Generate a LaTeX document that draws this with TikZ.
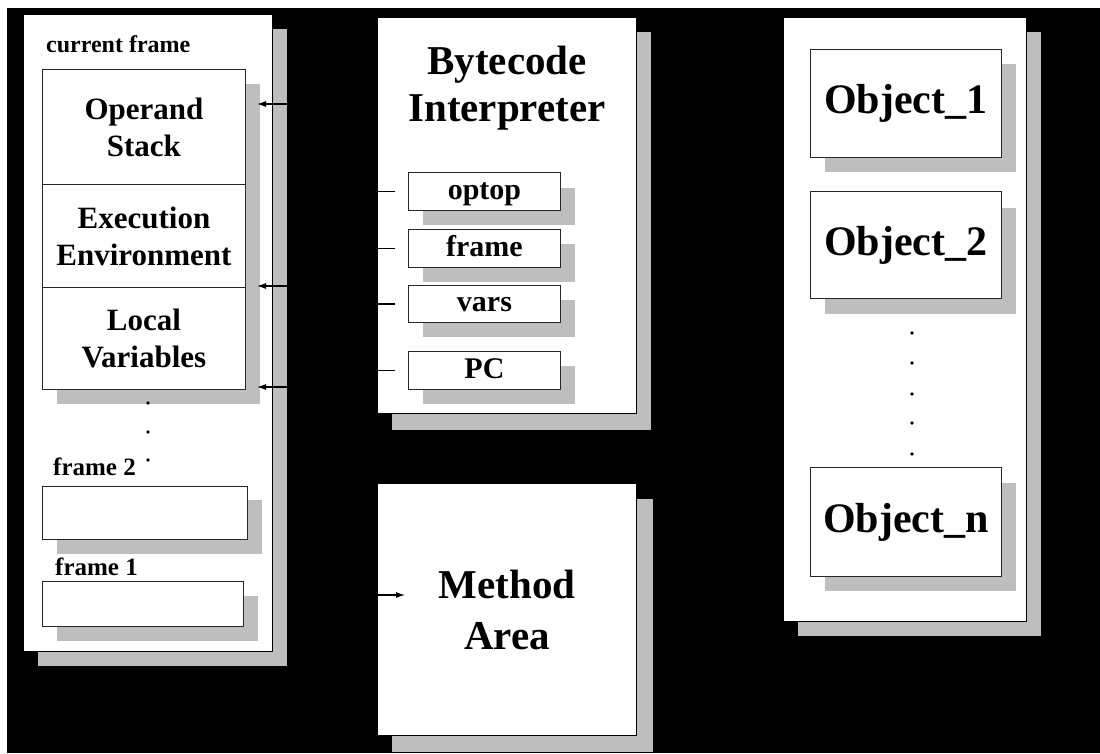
\documentclass[tikz,border=0pt]{standalone}
\usepackage{fontspec}
\setmainfont{Liberation Serif}
\usetikzlibrary{arrows.meta}
\definecolor{shadowgray}{RGB}{190,190,190}
\begin{document}
\begin{tikzpicture}[x=1pt,y=-1pt,
  panel/.style={fill=white,draw=black,line width=1pt},
  shade/.style={fill=shadowgray},
  cell/.style={fill=white,draw=black!85,line width=0.9pt,anchor=north west,inner sep=0pt,align=center},
  midtext/.style={font=\bfseries\fontsize{31}{37}\selectfont},
  regtext/.style={font=\bfseries\fontsize{30}{32}\selectfont,text height=20pt,text depth=4pt},
  bigtext/.style={font=\bfseries\fontsize{41}{51}\selectfont},
  objtext/.style={font=\bfseries\fontsize{42}{50}\selectfont},
  smalllabel/.style={font=\bfseries\fontsize{24}{27}\selectfont,anchor=base west,inner sep=0pt},
  title/.style={font=\bfseries\fontsize{41}{47}\selectfont,align=center,inner sep=0pt},
  link/.style={draw=black,line width=1.1pt},
  tip/.style={-{Latex[length=9pt,width=6pt]}},
  dot/.style={fill=black}
]
% background and margins
\useasboundingbox (0,0) rectangle (1100,753);
\fill[white] (0,0) rectangle (1100,753);
\fill[black] (7,8) rectangle (1100,753);

% ---------------- left panel: Java stack ----------------
\fill[shade] (38,29) rectangle (287,666);
\node[panel,anchor=north west,minimum width=249pt,minimum height=637pt,inner sep=0pt] (stackpanel) at (23,14) {};
\node[smalllabel] (curlbl) at (46,52) {current frame};
\fill[shade] (57,84) rectangle (260,404);
\node[cell,midtext,minimum width=203pt,minimum height=115pt] (opstack) at (42,69) {Operand\\Stack};
\node[cell,midtext,minimum width=203pt,minimum height=103pt] (execenv) at (42,184) {Execution\\Environment};
\node[cell,midtext,minimum width=203pt,minimum height=102pt] (localvars) at (42,287) {Local\\Variables};
\fill[dot] (148,403) circle (1.8);
\fill[dot] (148,432) circle (1.8);
\fill[dot] (148,460) circle (1.8);
\node[smalllabel,font=\bfseries\fontsize{25}{27}\selectfont] (f2lbl) at (53,475) {frame 2};
\fill[shade] (57,500) rectangle (262,554);
\node[cell,minimum width=205pt,minimum height=53pt] (frametwo) at (42,486) {};
\node[smalllabel,font=\bfseries\fontsize{25}{27}\selectfont] (f1lbl) at (55,575) {frame 1};
\fill[shade] (57,596) rectangle (258,641);
\node[cell,minimum width=201pt,minimum height=45pt] (frameone) at (42,581) {};

% ---------------- bytecode interpreter ----------------
\fill[shade] (392,32) rectangle (651,430);
\node[panel,anchor=north west,minimum width=259pt,minimum height=396pt,inner sep=0pt] (interp) at (377,17) {};
\node[title] (interptitle) at (507,88) {Bytecode\\Interpreter};
\fill[shade] (423,188) rectangle (575,225);
\node[cell,regtext,minimum width=152pt,minimum height=38pt] (optop) at (408,172) {optop};
\fill[shade] (423,244) rectangle (575,282);
\node[cell,regtext,minimum width=152pt,minimum height=38pt] (frame) at (408,229) {frame};
\fill[shade] (423,300) rectangle (575,337);
\node[cell,regtext,minimum width=152pt,minimum height=37pt] (vars) at (408,285) {vars};
\fill[shade] (423,366) rectangle (575,404);
\node[cell,regtext,minimum width=152pt,minimum height=38pt] (pc) at (408,351) {PC};

% ---------------- method area ----------------
\fill[shade] (392,499) rectangle (653,752);
\node[panel,anchor=north west,minimum width=259pt,minimum height=252pt,inner sep=0pt,bigtext,align=center] (method) at (377,483) {Method\\Area};

% ---------------- heap objects ----------------
\fill[shade] (798,32) rectangle (1041,636);
\node[panel,anchor=north west,minimum width=243pt,minimum height=604pt,inner sep=0pt] (heap) at (783,17) {};
\fill[shade] (825,64) rectangle (1016,172);
\node[cell,objtext,minimum width=191pt,minimum height=108pt] (obja) at (810,49) {Object\_1};
\fill[shade] (825,208) rectangle (1016,314);
\node[cell,objtext,minimum width=191pt,minimum height=107pt] (objb) at (810,191) {Object\_2};
\fill[dot] (912,333) circle (1.8);
\fill[dot] (912,363) circle (1.8);
\fill[dot] (912,394) circle (1.8);
\fill[dot] (912,423) circle (1.8);
\fill[dot] (912,454) circle (1.8);
\fill[shade] (825,483) rectangle (1016,591);
\node[cell,objtext,minimum width=191pt,minimum height=109pt] (objn) at (810,467) {Object\_n};

% ---------------- connectors ----------------
\coordinate (tipop) at (257,104);
\coordinate (tipenv) at (257,286);
\coordinate (tipvars) at (257,387);
\coordinate (tipmeth) at (405,595);
\draw[link,tip] ([xshift=-13pt]optop.west) -- ++(-65,0) |- (tipop);
\draw[link,tip] ([xshift=-13pt]frame.west) -- ++(-58,0) |- (tipenv);
\draw[link,tip] ([xshift=-13pt]vars.west) -- ++(-51,0) |- (tipvars);
\draw[link,tip] ([xshift=-13pt]pc.west) -- ++(-40,0) |- (tipmeth);
\end{tikzpicture}
\end{document}
